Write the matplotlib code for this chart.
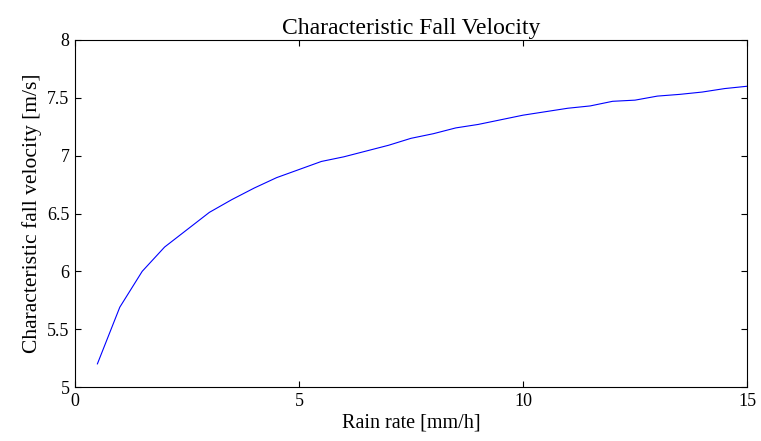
import numpy as np
import matplotlib
matplotlib.use("Agg")
import matplotlib.pyplot as plt

# rain rate [mm/h] and characteristic fall velocity [m/s]
rain_rate = [0.5, 1.0, 1.5, 2.0, 2.5, 3.0, 3.5, 4.0, 4.5, 5.0,
             5.5, 6.0, 6.5, 7.0, 7.5, 8.0, 8.5, 9.0, 9.5, 10.0,
             10.5, 11.0, 11.5, 12.0, 12.5, 13.0, 13.5, 14.0, 14.5, 15.0]
fall_velocity = [5.20, 5.69, 6.00, 6.21, 6.36, 6.51, 6.62, 6.72, 6.81, 6.88,
                 6.95, 6.99, 7.04, 7.09, 7.15, 7.19, 7.24, 7.27, 7.31, 7.35,
                 7.38, 7.41, 7.43, 7.47, 7.48, 7.515, 7.53, 7.55, 7.58, 7.60]

xticks = [0, 5, 10, 15]
yticks = [5, 5.5, 6, 6.5, 7, 7.5, 8]

plt.rcParams['font.family'] = ['Liberation Serif', 'DejaVu Serif']

fig = plt.figure(figsize=(7.61, 4.41), dpi=100)
ax = fig.add_axes([75/761, 1 - 387/441, 672/761, 347/441])

ax.plot(rain_rate, fall_velocity, color=(0, 0, 1), linewidth=0.8)

ax.set_xlim(0, 15)
ax.set_ylim(5, 8)
ax.set_xticks(xticks)
ax.set_xticklabels([f"{t:g}" for t in xticks])
ax.set_yticks(yticks)
ax.set_yticklabels([f"{t:g}" for t in yticks])
ax.tick_params(direction="in", length=4, width=0.8, top=True, right=True,
               labelsize=13, pad=4)
for s in ax.spines.values():
    s.set_linewidth(0.8)

ax.set_title("Characteristic Fall Velocity", fontsize=17, pad=4)
ax.set_xlabel("Rain rate [mm/h]", fontsize=14.5, labelpad=3)
ax.set_ylabel("Characteristic fall velocity [m/s]", fontsize=15.5, labelpad=4)

fig.savefig("out.png", dpi=100)
